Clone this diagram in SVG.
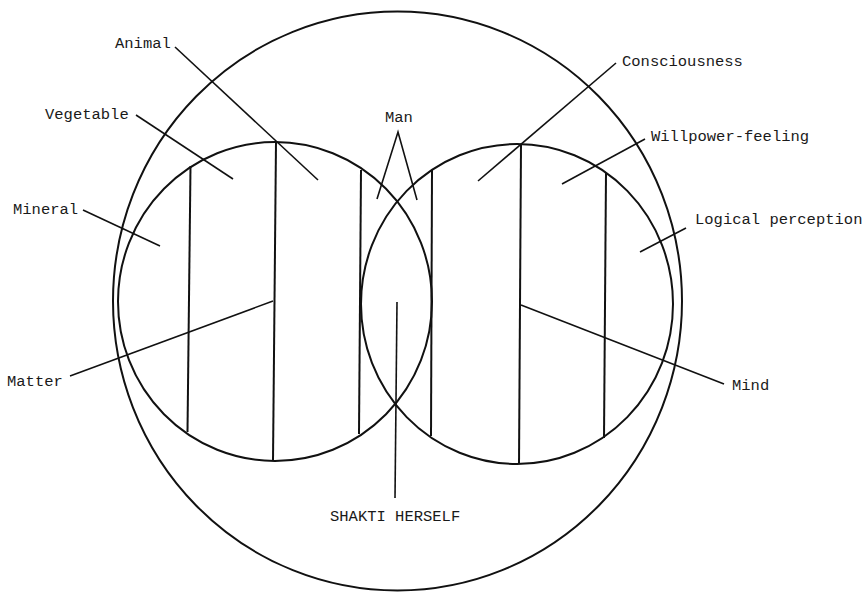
<svg xmlns="http://www.w3.org/2000/svg" width="866" height="593" viewBox="0 0 866 593">
<style>
.c{fill:none;stroke:#111;stroke-width:2}
.d{fill:none;stroke:#111;stroke-width:2}
.l{fill:none;stroke:#111;stroke-width:1.6}
text{font-family:"Liberation Mono","DejaVu Sans Mono",monospace;font-size:15.5px;fill:#1a1a1a}
</style>
<rect width="866" height="593" fill="#fff"/>
<g id="shakti-circle"><ellipse class="c" cx="397.5" cy="301" rx="284.5" ry="289.5"/></g>
<g id="matter-circle">
<ellipse class="c" cx="275" cy="301.5" rx="157" ry="159.5"/>
<line class="d" x1="190.5" y1="166" x2="187.5" y2="432"/>
<line class="d" x1="276" y1="142" x2="273" y2="461"/>
<line class="d" x1="361" y1="170" x2="359" y2="434"/>
</g>
<g id="mind-circle">
<ellipse class="c" cx="517" cy="304" rx="156" ry="160"/>
<line class="d" x1="432" y1="170" x2="431" y2="436"/>
<line class="d" x1="521" y1="144" x2="519" y2="464"/>
<line class="d" x1="606" y1="173" x2="604" y2="438"/>
</g>
<g id="labels">
<text id="animal" x="115" y="48">Animal</text>
<text id="vegetable" x="45" y="119">Vegetable</text>
<text id="mineral" x="13" y="214">Mineral</text>
<text id="man" x="385" y="122">Man</text>
<text id="matter" x="7" y="386">Matter</text>
<text id="shakti" x="330" y="521">SHAKTI HERSELF</text>
<text id="consciousness" x="622" y="66">Consciousness</text>
<text id="willpower" x="651" y="141">Willpower-feeling</text>
<text id="logical" x="695" y="224">Logical perception</text>
<text id="mind" x="732" y="390">Mind</text>
</g>
<g id="connectors">
<line class="l" x1="175" y1="47" x2="318" y2="180"/>
<line class="l" x1="136" y1="115" x2="233" y2="179"/>
<line class="l" x1="83" y1="210" x2="160" y2="246"/>
<polyline class="l" points="377,199 398,132 417,200"/>
<line class="l" x1="70" y1="376" x2="273" y2="301"/>
<line class="l" x1="397" y1="302" x2="395" y2="498"/>
<line class="l" x1="616" y1="63" x2="478" y2="181"/>
<line class="l" x1="645" y1="139" x2="562" y2="184"/>
<line class="l" x1="686" y1="228" x2="640" y2="252"/>
<line class="l" x1="521" y1="305" x2="724" y2="384"/>
</g>
</svg>
